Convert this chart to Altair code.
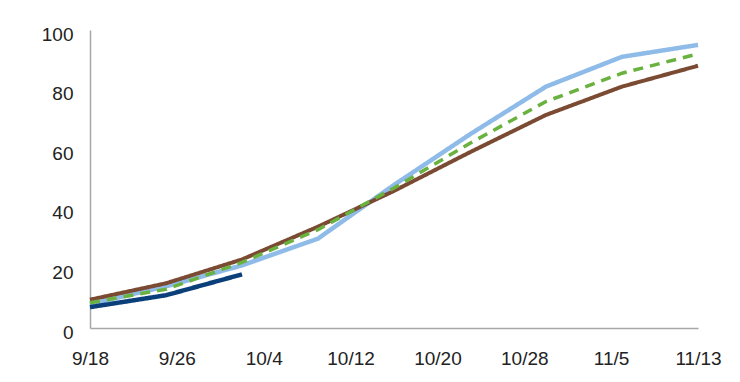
import altair as alt
import pandas as pd

dates = ["2020-09-18", "2020-09-25", "2020-10-02", "2020-10-09", "2020-10-16",
         "2020-10-23", "2020-10-30", "2020-11-06", "2020-11-13"]
light_blue = [8, 14, 21, 30, 48, 65, 81, 91, 95]
brown = [9.5, 15, 23, 34, 46, 59, 71.5, 81, 88]
green = [8.5, 13, 22, 33, 47, 62, 76, 85.5, 92]
dark_blue = [7, 11, 18]
tick_dates = [(9, 18), (9, 26), (10, 4), (10, 12), (10, 20), (10, 28), (11, 5), (11, 13)]
y_ticks = [0, 20, 40, 60, 80, 100]

series = [
    ("light_blue", light_blue, "#8EBBE8", 4.5, [1, 0]),
    ("brown", brown, "#7A4A32", 4, [1, 0]),
    ("green", green, "#6AB23F", 3.5, [10, 7]),
    ("dark_blue", dark_blue, "#0A3F7A", 4.5, [1, 0]),
]

FONT = "Liberation Sans Narrow, Arial Narrow, Liberation Sans, Arial"

x_scale = alt.Scale(type="utc", domain=[alt.DateTime(year=2020, month=9, date=18, utc=True),
                                        alt.DateTime(year=2020, month=11, date=13, utc=True)])
x_axis = alt.Axis(values=[alt.DateTime(year=2020, month=m, date=d, utc=True) for m, d in tick_dates],
                  labelExpr="utcFormat(datum.value, '%-m/%-d')", title=None, labelPadding=21,
                  labelFlush=False)
y_axis = alt.Axis(values=y_ticks, title=None, labelPadding=17, labelOffset=4)

layers = []
for name, vals, color, width, dash in series:
    df = pd.DataFrame({"date": dates[:len(vals)], "value": vals})
    layers.append(
        alt.Chart(df).mark_line(color=color, strokeWidth=width, strokeDash=dash,
                                strokeCap="butt", strokeJoin="round")
        .encode(x=alt.X("date:T", scale=x_scale, axis=x_axis),
                y=alt.Y("value:Q", scale=alt.Scale(domain=[0, 100], nice=False), axis=y_axis))
    )

chart = alt.layer(*layers).properties(
    width=608, height=298,
    autosize=alt.AutoSizeParams(type="none"),
    padding={"left": 90, "top": 30, "right": 42, "bottom": 54},
).configure_view(stroke=None).configure_axis(
    grid=False, ticks=False, domainColor="#a6a6a6", domainWidth=1.5,
    labelFont=FONT, labelFontSize=19, labelColor="#222222",
)

chart.save("out.html", embed_options={"renderer": "svg", "actions": False})
